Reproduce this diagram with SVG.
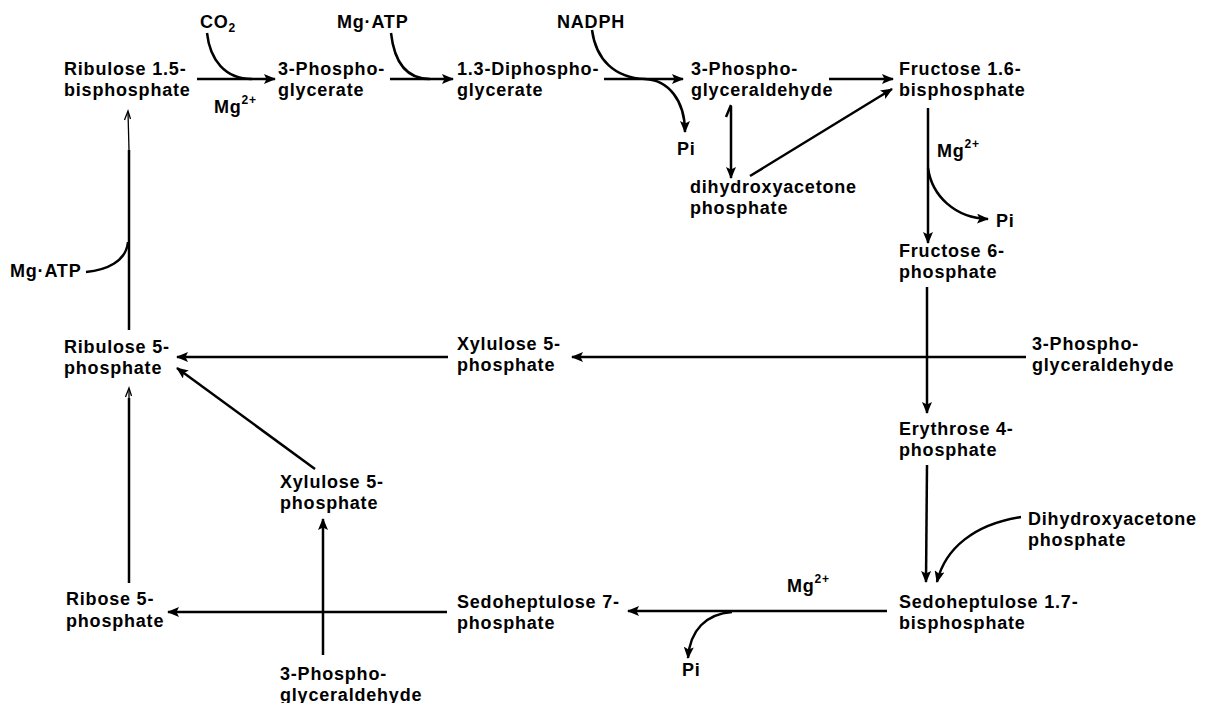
<svg xmlns="http://www.w3.org/2000/svg" width="1211" height="703" viewBox="0 0 1211 703">
  <style>
    text { font-family: "Liberation Sans", Arial, sans-serif; font-weight: bold; font-size: 18px; letter-spacing: 0.8px; fill: #000; }
    .ln { fill: none; stroke: #000; stroke-width: 2.5; }
    .thin { fill: none; stroke: #000; stroke-width: 1.3; }
    .sup { font-size: 12px; }
  </style>
  <defs>
    <marker id="ah" viewBox="0 0 12 10" refX="11" refY="5" markerWidth="12" markerHeight="10" markerUnits="userSpaceOnUse" orient="auto">
      <path d="M0,0 L12,5 L0,10 L2.5,5 z" fill="#000"/>
    </marker>
  </defs>
  <rect width="1211" height="703" fill="#fff"/>

  <!-- connectors -->
  <g id="connectors">
    <!-- carboxylation -->
    <line class="ln" x1="197" y1="79" x2="275" y2="79" marker-end="url(#ah)"/>
    <path class="ln" d="M207,33 C210,60 225,79 252,79"/>
    <!-- phosphorylation -->
    <line class="ln" x1="390" y1="79" x2="453" y2="79" marker-end="url(#ah)"/>
    <path class="ln" d="M391,33 C394,60 405,79 430,79"/>
    <!-- reduction -->
    <line class="ln" x1="604" y1="79" x2="683" y2="79" marker-end="url(#ah)"/>
    <path class="ln" d="M592,30 C596,60 615,78 645,79 C668,80 685,100 685,132" marker-end="url(#ah)"/>
    <!-- aldolase -->
    <line class="ln" x1="829" y1="79" x2="893" y2="79" marker-end="url(#ah)"/>
    <line class="ln" x1="750" y1="176" x2="892" y2="89" marker-end="url(#ah)"/>
    <!-- triose isomerase -->
    <line class="ln" x1="731" y1="106" x2="731" y2="178" marker-end="url(#ah)"/>
    <path class="ln" d="M731,105 L726,117"/>
    <!-- FBPase -->
    <line class="ln" x1="928" y1="108" x2="928" y2="243" marker-end="url(#ah)"/>
    <path class="ln" d="M928,168 C932,196 955,218 988,219" marker-end="url(#ah)"/>
    <!-- transketolase -->
    <line class="ln" x1="927" y1="287" x2="927" y2="413" marker-end="url(#ah)"/>
    <line class="ln" x1="1026" y1="357" x2="572" y2="357" marker-end="url(#ah)"/>
    <line class="ln" x1="448" y1="357" x2="177" y2="357" marker-end="url(#ah)"/>
    <!-- aldolase to sedoheptulose bisphosphate -->
    <line class="ln" x1="927" y1="465" x2="926" y2="582" marker-end="url(#ah)"/>
    <path class="ln" d="M1021,517 C975,524 945,548 937,582" marker-end="url(#ah)"/>
    <!-- SBPase -->
    <line class="ln" x1="887" y1="611" x2="628" y2="611" marker-end="url(#ah)"/>
    <path class="ln" d="M732,612 C706,614 690,630 688,658" marker-end="url(#ah)"/>
    <!-- second transketolase -->
    <line class="ln" x1="447" y1="612" x2="168" y2="612" marker-end="url(#ah)"/>
    <line class="ln" x1="323" y1="655" x2="323" y2="519" marker-end="url(#ah)"/>
    <line class="ln" x1="315" y1="469" x2="177" y2="368" marker-end="url(#ah)"/>
    <!-- isomerase and kinase on the left -->
    <line class="ln" x1="129" y1="583" x2="129" y2="398"/>
    <line class="thin" x1="129" y1="398" x2="129" y2="389"/>
    <path class="thin" d="M125.5,397 L129,388 L131.5,396"/>
    <line class="ln" x1="129" y1="330" x2="129" y2="150"/>
    <line class="thin" x1="129" y1="150" x2="128" y2="112"/>
    <path class="thin" d="M124.5,120 L128,111 L130.5,119"/>
    <path class="ln" d="M86,272 C106,270 126,262 128,242"/>
  </g>

  <!-- cofactors -->
  <g id="co2"><text x="200" y="28">CO<tspan class="sup" dy="4">2</tspan></text></g>
  <g id="mgatp-1"><text x="337" y="28">Mg·ATP</text></g>
  <g id="nadph"><text x="557" y="28">NADPH</text></g>
  <g id="mg-1"><text x="214" y="113">Mg<tspan class="sup" dy="-9">2+</tspan></text></g>
  <g id="pi-1"><text x="677" y="155">Pi</text></g>
  <g id="mg-2"><text x="937" y="157">Mg<tspan class="sup" dy="-9">2+</tspan></text></g>
  <g id="pi-2"><text x="996" y="227">Pi</text></g>
  <g id="mg-3"><text x="787" y="592">Mg<tspan class="sup" dy="-9">2+</tspan></text></g>
  <g id="pi-3"><text x="682" y="676">Pi</text></g>
  <g id="mgatp-2"><text x="10" y="277">Mg·ATP</text></g>

  <!-- metabolites -->
  <g id="rubp"><text x="64" y="75">Ribulose 1.5-<tspan x="64" dy="21">bisphosphate</tspan></text></g>
  <g id="pga"><text x="278" y="75">3-Phospho-<tspan x="278" dy="21">glycerate</tspan></text></g>
  <g id="dpga"><text x="457" y="75">1.3-Diphospho-<tspan x="457" dy="21">glycerate</tspan></text></g>
  <g id="gap-1"><text x="691" y="75">3-Phospho-<tspan x="691" dy="21">glyceraldehyde</tspan></text></g>
  <g id="fbp"><text x="899" y="75">Fructose 1.6-<tspan x="899" dy="21">bisphosphate</tspan></text></g>
  <g id="dhap-1"><text x="690" y="193">dihydroxyacetone<tspan x="690" dy="21">phosphate</tspan></text></g>
  <g id="f6p"><text x="899" y="257">Fructose 6-<tspan x="899" dy="21">phosphate</tspan></text></g>
  <g id="ru5p"><text x="64" y="353">Ribulose 5-<tspan x="64" dy="21">phosphate</tspan></text></g>
  <g id="xu5p-1"><text x="457" y="350">Xylulose 5-<tspan x="457" dy="21">phosphate</tspan></text></g>
  <g id="gap-2"><text x="1032" y="350">3-Phospho-<tspan x="1032" dy="21">glyceraldehyde</tspan></text></g>
  <g id="e4p"><text x="899" y="435">Erythrose 4-<tspan x="899" dy="21">phosphate</tspan></text></g>
  <g id="xu5p-2"><text x="280" y="488">Xylulose 5-<tspan x="280" dy="21">phosphate</tspan></text></g>
  <g id="dhap-2"><text x="1028" y="525">Dihydroxyacetone<tspan x="1028" dy="21">phosphate</tspan></text></g>
  <g id="r5p"><text x="66" y="605">Ribose 5-<tspan x="66" dy="22">phosphate</tspan></text></g>
  <g id="s7p"><text x="457" y="608">Sedoheptulose 7-<tspan x="457" dy="21">phosphate</tspan></text></g>
  <g id="sbp"><text x="899" y="608">Sedoheptulose 1.7-<tspan x="899" dy="21">bisphosphate</tspan></text></g>
  <g id="gap-3"><text x="280" y="680">3-Phospho-<tspan x="280" dy="21">glyceraldehyde</tspan></text></g>
</svg>
